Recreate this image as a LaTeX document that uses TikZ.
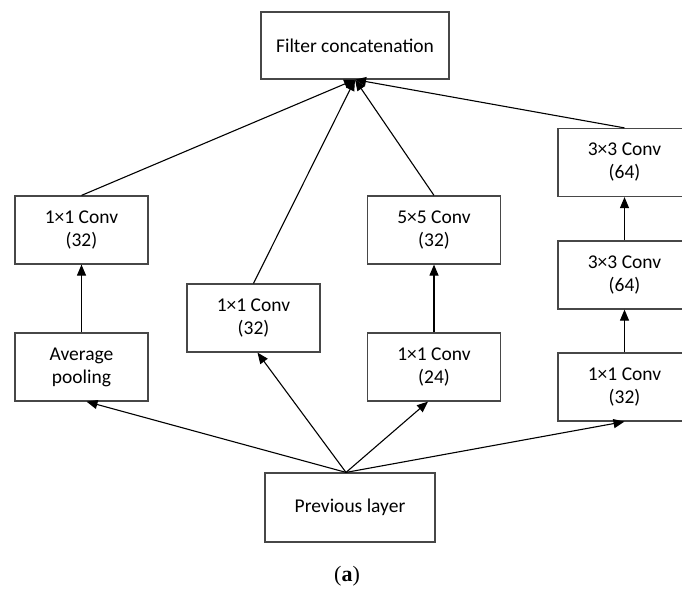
\documentclass[tikz,border=0pt]{standalone}
\usepackage{fontspec}
\usetikzlibrary{arrows.meta,calc}
\newfontfamily\calibrifont{Carlito}
\newfontfamily\capfont{Liberation Serif}
\tikzset{
  blk/.style={draw=black!72, line width=1.2pt, fill=white, inner sep=0pt, align=center,
    minimum width=133pt, minimum height=68pt, font=\calibrifont\fontsize{19.5}{23}\selectfont},
  arr/.style={line width=1.1pt, black, -{Triangle[length=11pt,width=9pt]}},
}
\begin{document}
\begin{tikzpicture}[x=1pt,y=-1pt]
\useasboundingbox (0,0) rectangle (682,594);
\clip (0,0) rectangle (682,594);
\node[blk, minimum width=188pt, minimum height=67pt] (top) at (355,45.5) {Filter concatenation};
\node[blk] (l1) at (81.5,230) {1×1 Conv\\(32)};
\node[blk] (avg) at (81.5,367) {Average\\pooling};
\node[blk] (mid) at (253.5,318) {1×1 Conv\\(32)};
\node[blk] (c55) at (434,230) {5×5 Conv\\(32)};
\node[blk] (c11) at (434,367) {1×1 Conv\\(24)};
\node[blk] (r3a) at (624.5,162.5) {3×3 Conv\\(64)};
\node[blk] (r3b) at (624.5,275) {3×3 Conv\\(64)};
\node[blk] (r1) at (624.5,387) {1×1 Conv\\(32)};
\node[blk, minimum width=170pt, minimum height=69pt] (prev) at (350,507.5) {Previous layer};
\node (cap) at (347,576) {\capfont\fontsize{22}{26}\selectfont(\textbf{a})};
\coordinate (apex) at ($(prev.north)+(-4,0)$);
% upward to concatenation
\draw[arr] (l1.north) -- (top.south);
\draw[arr] (mid.north) -- (top.south);
\draw[arr] (c55.north) -- (top.south);
\draw[arr] (r3a.north) -- (top.south);
% vertical chains
\draw[arr] (avg.north) -- (l1.south);
\draw[arr] (c11.north) -- (c55.south);
\draw[arr] (r1.north) -- (r3b.south);
\draw[arr] (r3b.north) -- (r3a.south);
% from previous layer
\draw[arr] (apex) -- ([xshift=5pt]avg.south);
\draw[arr] (apex) -- ([xshift=4pt]mid.south);
\draw[arr] (apex) -- ([xshift=-6pt]c11.south);
\draw[arr] (apex) -- (r1.south);
\end{tikzpicture}
\end{document}
